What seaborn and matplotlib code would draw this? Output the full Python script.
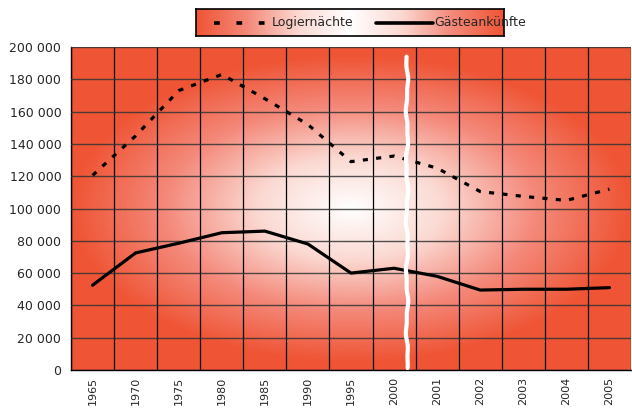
import numpy as np
import pandas as pd
import matplotlib.pyplot as plt
import seaborn as sns
from matplotlib.colors import LinearSegmentedColormap
from matplotlib.ticker import FuncFormatter

# -------------------------
# Data
# -------------------------
years = ["1965", "1970", "1975", "1980", "1985", "1990", "1995",
         "2000", "2001", "2002", "2003", "2004", "2005"]
logiernaechte = [120500, 145000, 173000, 183000, 168000, 152000, 129000,
                 132500, 125000, 110500, 107500, 105000, 112000]
gaesteankuenfte = [52500, 72500, 78500, 85000, 86000, 78000, 60000,
                   63000, 58000, 49500, 50000, 50000, 51000]

df = pd.DataFrame({
    "pos": list(range(len(years))) * 2,
    "value": logiernaechte + gaesteankuenfte,
    "series": ["Logiernächte"] * len(years) + ["Gästeankünfte"] * len(years),
})

sns.set_style("white")
plt.rcParams["font.family"] = ["DejaVu Sans"]

red = "#ef5535"
cmap = LinearSegmentedColormap.from_list("bg", ["#ffffff", "#fbd9d2", "#f4897a", red])

fig = plt.figure(figsize=(6.32, 4.08), dpi=100)
ax = fig.add_axes([71 / 632, 1 - 370 / 408, 560 / 632, 323 / 408])

# -------------------------
# Radial gradient background
# -------------------------
gx, gy = np.meshgrid(np.linspace(-1, 1, 300), np.linspace(-1, 1, 200))
r = np.clip(np.sqrt(gx ** 2 + (gy * 1.05) ** 2), 0, 1)
ax.imshow(r, cmap=cmap, vmin=0, vmax=1, extent=[0, 1, 0, 1],
          transform=ax.transAxes, aspect="auto", zorder=0)

# -------------------------
# Lines
# -------------------------
sns.lineplot(data=df, x="pos", y="value", hue="series", style="series",
             palette=["black", "black"],
             dashes={"Logiernächte": (1.6, 2.6), "Gästeankünfte": ""},
             linewidth=2.3, ax=ax, legend=False, zorder=3)

ax.set_xlim(-0.5, 12.45)
ax.set_ylim(0, 200000)
ax.set_xlabel("")
ax.set_ylabel("")

ax.set_xticks(range(len(years)))
ax.set_xticklabels(years, rotation=90, fontsize=8)
ax.set_xticks(np.arange(-0.5, len(years), 1), minor=True)
ax.tick_params(axis="x", which="major", length=0, pad=5)
ax.tick_params(axis="x", which="minor", length=4, width=1, color="black", direction="out")
ax.set_yticks(np.arange(0, 200001, 20000))
ax.yaxis.set_major_formatter(FuncFormatter(lambda v, p: f"{int(v):,}".replace(",", " ")))
ax.tick_params(axis="y", length=4, width=1, color="black", direction="out", labelsize=9, pad=3)

ax.grid(True, axis="y", color="#333333", linewidth=1.0, alpha=0.85, zorder=1)
ax.grid(True, axis="x", which="minor", color="black", linewidth=0.9, zorder=1)
ax.grid(False, axis="x", which="major")
ax.set_axisbelow(False)
for side in ["top", "right"]:
    ax.spines[side].set_visible(False)
for side in ["left", "bottom"]:
    ax.spines[side].set_color("black")
    ax.spines[side].set_linewidth(1)

# -------------------------
# Axis break marker (wavy white line)
# -------------------------
t = np.linspace(0.006, 0.97, 300)
wx = 7.3 + 0.02 * np.sin(t * 37) + 0.01 * np.sin(t * 91 + 1.0)
ax.plot(wx, t * 200000, color="white", linewidth=3, zorder=4, solid_capstyle="round")

# -------------------------
# Legend with gradient box
# -------------------------
lax = fig.add_axes([196 / 632, 1 - 36 / 408, 308 / 632, 27 / 408])
lx = np.abs(np.linspace(-1, 1, 300))[None, :]
lax.imshow(lx, cmap=cmap, vmin=0, vmax=1, extent=[0, 1, 0, 1], aspect="auto")
lax.set_xticks([])
lax.set_yticks([])
for s in lax.spines.values():
    s.set_color("black")
    s.set_linewidth(1.2)
lax.plot([0.06, 0.235], [0.5, 0.5], color="black", linewidth=2.6, dashes=(1.6, 4.6))
lax.text(0.245, 0.5, "Logiernächte", va="center", ha="left", fontsize=9)
lax.plot([0.585, 0.77], [0.5, 0.5], color="black", linewidth=2.6)
lax.text(0.772, 0.5, "Gästeankünfte", va="center", ha="left", fontsize=9)
lax.set_xlim(0, 1)
lax.set_ylim(0, 1)

fig.savefig("out.png", dpi=100)
